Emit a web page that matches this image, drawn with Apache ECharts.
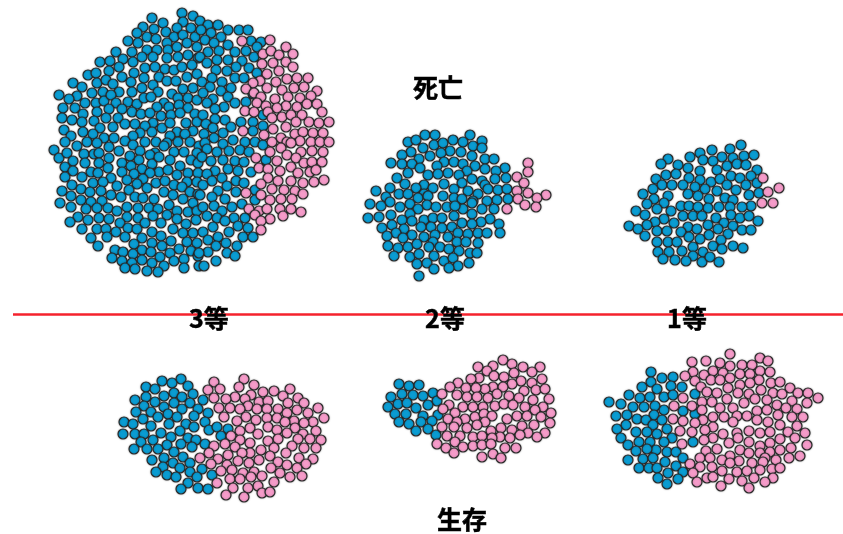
<!DOCTYPE html>
<html><head><meta charset="utf-8">
<script src="https://cdn.jsdelivr.net/npm/echarts@6/dist/echarts.min.js"></script>
<style>html,body{margin:0;padding:0;background:#fff}#c{width:843px;height:534px}</style></head>
<body><div id="c"></div><script>
const dead3Blue=[[152,18],[163,23],[182,13],[193,16],[183,22],[143,27],[154,29],[137,33],[166,32],[177,28],[191,28],[147,37],[156,39],[174,37],[183,35],[195,37],[128,41],[138,43],[167,43],[187,43],[116,52],[132,52],[147,50],[157,50],[168,50],[177,47],[197,47],[100,62],[110,61],[123,59],[133,62],[142,57],[153,57],[167,58],[178,57],[188,55],[198,58],[119,67],[145,68],[155,67],[165,69],[174,70],[182,67],[192,65],[88,75],[96,73],[109,71],[134,73],[122,77],[144,78],[159,77],[187,77],[197,74],[73,83],[82,87],[97,83],[106,80],[113,84],[131,82],[153,85],[167,81],[176,81],[59,95],[92,93],[103,92],[119,92],[132,92],[142,88],[158,92],[183,89],[193,88],[172,94],[77,96],[69,99],[85,103],[96,103],[104,101],[111,95],[116,103],[128,102],[137,104],[144,98],[151,97],[164,103],[178,98],[188,98],[197,100],[63,108],[75,108],[97,112],[109,109],[122,109],[157,107],[169,107],[179,105],[188,108],[83,114],[132,112],[141,114],[150,113],[161,116],[171,115],[180,113],[195,114],[62,118],[72,120],[94,121],[106,118],[118,118],[82,122],[125,124],[135,124],[153,123],[145,126],[162,128],[170,123],[186,123],[197,122],[64,130],[100,128],[113,127],[83,132],[93,134],[71,136],[140,133],[152,132],[177,132],[193,131],[185,134],[170,136],[104,138],[114,138],[133,136],[65,142],[87,142],[97,143],[125,141],[145,142],[156,142],[167,143],[178,142],[190,142],
[54,150],[77,146],[109,147],[133,145],[164,146],[199,146],[59,158],[67,153],[84,154],[94,154],[99,153],[119,151],[140,151],[155,153],[174,152],[184,152],[197,153],[73,161],[85,163],[99,163],[109,158],[122,163],[130,156],[139,160],[150,155],[152,164],[159,157],[170,160],[191,160],[198,163],[65,167],[73,171],[91,172],[108,168],[131,166],[142,169],[159,172],[168,170],[180,166],[188,173],[198,173],[122,172],[134,174],[150,173],[98,173],[177,175],[65,177],[82,177],[111,178],[93,183],[103,182],[127,180],[143,179],[156,183],[165,181],[187,182],[197,182],[72,185],[117,186],[137,184],[174,185],[62,191],[81,189],[90,192],[101,191],[129,190],[147,188],[164,192],[182,187],[190,192],[71,196],[111,195],[121,197],[135,197],[143,198],[154,199],[173,195],[198,194],[81,200],[91,202],[102,201],[183,199],[60,203],[169,205],[193,203],[71,207],[86,209],[97,208],[108,208],[117,211],[127,207],[138,208],[149,208],[158,209],[177,211],[188,212],[197,211],[78,217],[70,222],[88,220],[99,218],[109,219],[127,217],[138,218],[153,216],[167,215],[177,219],[196,220],[186,224],[120,223],[145,223],[161,223],[82,229],[97,229],[106,229],[128,228],[137,229],[116,232],[152,232],[173,229],[183,233],[193,233],[91,238],[107,237],[125,237],[161,236],[142,238],[171,241],[187,242],[197,243],[134,244],[152,243],[98,246],[115,250],[123,252],[142,250],[151,252],[162,246],[179,249],[191,251],[133,254],[170,253],[160,257],[198,256],[112,258],[122,261],[142,260],[174,261],[184,259],[152,263],[132,263],[164,266],[125,268],[135,269],[147,271],[158,272],[184,268],[199,266],
[200,21],[208,25],[218,25],[201,30],[228,30],[239,30],[248,30],[211,33],[221,37],[205,40],[214,43],[251,41],[261,42],[228,45],[219,51],[208,52],[235,52],[246,51],[257,47],[200,57],[217,60],[228,60],[242,61],[254,57],[207,63],[236,67],[249,68],[227,71],[216,70],[257,73],[212,78],[235,78],[244,78],[202,82],[222,82],[210,87],[231,88],[221,91],[203,93],[253,94],[228,97],[213,99],[207,103],[235,103],[246,102],[224,107],[215,109],[203,115],[263,115],[225,120],[215,119],[241,122],[253,122],[206,124],[263,126],[231,127],[213,128],[253,131],[223,133],[204,134],[214,138],[233,140],[245,142],[255,142],[205,143],
[223,144],[263,145],[207,149],[217,152],[229,151],[240,150],[249,152],[202,157],[211,161],[223,160],[235,161],[244,162],[266,160],[215,171],[228,169],[238,171],[251,172],[207,174],[212,181],[222,178],[236,181],[244,183],[203,185],[227,186],[218,191],[236,192],[255,190],[200,195],[212,197],[225,199],[255,200],[242,204],[203,207],[214,206],[232,207],[222,211],[217,218],[207,216],[245,218],[234,218],[225,221],[213,227],[238,226],[248,228],[203,232],[229,232],[218,237],[243,237],[253,237],[208,240],[226,243],[216,246],[237,246],[208,252],[199,253],[227,253],[235,256],[216,261],[204,266]];
const dead3Pink=[[242,41],[270,40],[286,47],[263,54],[271,51],[279,55],[293,54],[262,64],[273,63],[286,62],[293,67],[279,71],[267,74],[287,79],[297,78],[308,78],[276,82],[260,81],[253,83],[246,89],[267,88],[282,90],[294,88],[304,87],[317,91],[254,93],[261,97],[275,99],[288,97],[300,98],[311,96],[257,103],[266,106],[286,106],[277,108],[297,107],[307,104],[317,104],[245,111],[254,112],[268,112],[322,112],[282,117],[291,115],[302,115],[272,118],[309,122],[296,122],[319,123],[329,122],[273,129],[286,127],[243,131],[264,135],[295,134],[303,132],[313,133],[323,133],[281,138],[272,142],[287,142],[300,141],[311,142],[320,142],[329,142],[281,148],[291,143],[312,151],[270,152],[287,155],[301,152],[323,152],[256,158],[277,161],[296,158],[259,168],[268,169],[304,163],[312,162],[322,162],[291,167],[280,171],[298,173],[310,172],[316,170],[268,178],[278,181],[291,181],[303,183],[314,182],[324,180],[261,184],[272,189],[284,190],[295,191],[303,194],[246,193],[261,195],[281,199],[270,200],[292,199],[249,209],[259,211],[267,209],[280,209],[291,209],[301,212],[255,215],[283,216],[270,219],[261,221],[261,230]];
const dead2Blue=[[425,135],[435,135],[470,135],[408,142],[416,140],[423,148],[434,145],[443,143],[453,140],[463,142],[482,141],[473,146],[482,148],[411,152],[450,151],[461,152],[441,153],[402,155],[430,156],[419,159],[472,156],[485,159],[494,159],[391,163],[402,164],[412,164],[444,162],[454,162],[437,166],[463,164],[475,166],[420,168],[505,168],[485,169],[467,171],[408,173],[448,173],[428,175],[438,174],[496,171],[459,175],[397,178],[495,179],[506,178],[482,181],[472,179],[405,184],[444,184],[462,183],[424,185],[416,188],[433,188],[390,188],[485,185],[454,189],[468,191],[488,189],[498,190],[507,189],[376,191],[399,194],[408,194],[424,194],[478,194],[443,196],[386,197],[418,198],[428,196],[454,198],[462,199],[473,201],[497,200],[508,199],[487,201],[390,202],[370,204],[381,206],[410,204],[427,205],[436,207],[447,207],[400,207],[418,209],[472,203],[463,209],[482,209],[494,209],[455,206],[410,214],[391,215],[379,217],[368,218],[454,216],[472,214],[402,220],[424,220],[433,218],[442,218],[412,221],[462,223],[490,219],[481,222],[472,224],[392,225],[382,228],[404,229],[431,227],[442,228],[452,227],[421,227],[499,224],[396,233],[387,236],[412,235],[424,237],[435,235],[448,237],[458,233],[468,234],[478,233],[487,233],[500,233],[403,238],[433,242],[457,242],[466,242],[478,243],[388,246],[398,248],[408,247],[417,244],[429,247],[440,247],[449,249],[459,251],[470,253],[477,253],[394,256],[410,257],[419,254],[434,256],[444,261],[453,258],[469,263],[417,264],[427,263],[458,266],[449,268],[434,269],[419,276]];
const dead2Pink=[[528,163],[528,172],[517,177],[524,183],[517,191],[528,193],[546,195],[537,198],[518,199],[525,205],[536,207],[507,209]];
const dead1Blue=[[741,145],[730,149],[712,150],[700,153],[690,157],[722,157],[744,156],[754,155],[733,158],[668,159],[703,160],[713,161],[661,164],[678,165],[727,166],[737,164],[746,165],[688,168],[700,171],[717,170],[757,170],[666,175],[676,174],[731,176],[740,178],[751,176],[656,179],[689,178],[711,182],[700,180],[720,179],[757,183],[662,185],[672,185],[683,185],[695,187],[705,189],[727,185],[746,185],[653,189],[736,190],[717,191],[643,194],[668,196],[688,194],[698,196],[749,195],[759,193],[725,198],[654,199],[709,199],[733,200],[647,204],[664,203],[681,206],[689,206],[708,208],[698,207],[719,207],[730,207],[751,206],[742,207],[657,209],[671,211],[636,211],[645,215],[683,216],[693,216],[702,216],[731,215],[740,218],[749,216],[716,218],[664,219],[655,222],[674,223],[758,221],[724,223],[647,225],[629,226],[638,229],[708,225],[688,227],[733,226],[697,229],[718,229],[742,230],[751,230],[657,231],[667,231],[681,232],[728,234],[645,236],[709,235],[689,237],[700,239],[721,240],[668,242],[677,242],[657,242],[733,246],[713,246],[693,247],[743,248],[722,249],[658,252],[669,252],[682,251],[703,252],[663,259],[675,260],[693,256],[686,261],[702,262],[710,257],[719,262]];
const dead1Pink=[[763,178],[779,188],[768,192],[762,203],[773,203]];
const live3Blue=[[162,381],[181,379],[172,383],[146,387],[155,389],[188,386],[174,393],[193,394],[164,396],[146,397],[182,397],[135,400],[155,402],[174,403],[203,400],[190,403],[144,406],[164,407],[198,409],[182,409],[136,412],[151,412],[168,414],[208,413],[194,416],[158,417],[177,417],[143,419],[124,422],[133,424],[205,422],[186,424],[169,424],[151,426],[194,427],[209,430],[217,427],[228,429],[180,431],[161,433],[123,434],[135,434],[144,434],[171,437],[188,438],[221,436],[196,440],[153,440],[141,442],[181,444],[205,444],[167,445],[192,447],[134,449],[147,449],[158,449],[174,452],[183,457],[164,458],[152,460],[190,463],[173,463],[163,467],[180,468],[202,469],[156,472],[190,472],[167,475],[176,477],[197,477],[212,475],[188,483],[198,488],[181,489],[208,489]];
const live3Pink=[[214,382],[244,379],[208,390],[220,389],[239,387],[254,385],[290,389],[263,392],[274,391],[214,398],[235,397],[226,399],[251,395],[245,399],[283,396],[298,398],[259,402],[268,401],[288,403],[304,403],[248,406],[219,408],[230,408],[240,409],[257,409],[267,409],[278,409],[297,410],[318,408],[287,413],[308,413],[224,417],[246,417],[256,420],[267,418],[277,418],[324,418],[237,421],[294,421],[313,422],[285,422],[304,423],[250,428],[268,427],[277,430],[295,428],[240,431],[231,436],[258,434],[287,433],[316,431],[303,434],[278,439],[310,439],[321,440],[240,440],[250,443],[268,441],[298,439],[292,446],[225,444],[214,446],[235,447],[261,450],[316,448],[304,448],[274,448],[250,453],[286,453],[209,453],[228,455],[242,453],[270,456],[299,458],[200,458],[218,459],[238,461],[259,460],[278,462],[313,459],[249,463],[211,464],[287,465],[306,464],[227,465],[271,468],[232,470],[221,471],[254,472],[297,468],[280,473],[243,473],[262,476],[290,477],[302,476],[230,479],[240,479],[251,477],[217,483],[274,482],[258,486],[248,488],[233,488],[226,495],[262,493],[270,492],[244,497]];
const live2Blue=[[399,384],[409,386],[419,385],[402,394],[413,395],[433,393],[391,397],[423,396],[437,401],[398,404],[407,403],[428,405],[388,407],[416,408],[395,414],[406,414],[438,415],[423,416],[399,422],[409,424],[432,421],[421,422],[416,431],[428,429],[436,435]];
const live2Pink=[[503,360],[512,364],[478,367],[493,366],[523,367],[540,367],[487,371],[532,372],[514,373],[494,376],[504,377],[479,378],[471,379],[542,379],[521,381],[458,383],[532,383],[450,387],[512,384],[493,387],[466,388],[485,389],[476,388],[503,387],[524,391],[536,390],[545,389],[442,394],[457,395],[467,397],[497,394],[509,396],[477,397],[488,398],[519,398],[549,399],[533,400],[449,405],[463,407],[483,407],[473,407],[495,406],[504,404],[513,405],[525,407],[543,407],[535,410],[443,409],[551,413],[475,417],[484,414],[492,416],[517,416],[507,419],[527,416],[541,417],[455,413],[448,419],[485,422],[465,419],[457,422],[477,425],[550,423],[534,425],[522,426],[501,428],[442,427],[454,427],[467,428],[512,430],[491,431],[545,433],[528,433],[447,436],[460,436],[473,437],[482,436],[500,437],[510,438],[520,435],[537,437],[455,442],[492,438],[437,444],[473,446],[482,445],[491,444],[505,448],[516,448],[446,448],[463,447],[454,453],[482,457],[493,454],[501,458]];
const live1Blue=[[651,372],[651,382],[662,378],[673,377],[642,387],[671,386],[682,387],[657,389],[629,395],[640,398],[650,397],[664,397],[673,395],[695,394],[609,402],[621,404],[633,407],[644,407],[655,406],[664,410],[683,411],[616,416],[627,415],[637,419],[654,415],[662,420],[646,420],[695,414],[626,425],[653,425],[617,429],[636,432],[647,432],[667,429],[657,434],[621,438],[672,438],[639,442],[650,442],[664,442],[693,442],[628,445],[656,450],[647,449],[636,451],[667,452],[676,452],[683,458],[643,459],[653,458],[628,460],[665,462],[676,466],[683,472],[639,468],[649,468],[657,468],[668,473],[658,478],[678,479],[667,484]];
const live1Pink=[[730,354],[760,358],[768,361],[692,362],[706,361],[720,363],[730,366],[742,365],[752,365],[693,372],[713,371],[760,371],[770,372],[685,376],[704,375],[723,373],[740,374],[750,374],[695,381],[711,380],[720,380],[730,378],[759,380],[740,385],[750,383],[771,383],[780,382],[701,387],[728,388],[790,388],[707,392],[717,393],[738,393],[749,394],[761,390],[773,393],[782,394],[798,393],[808,393],[818,398],[683,398],[727,399],[755,399],[767,400],[702,402],[712,402],[792,401],[807,403],[674,406],[692,406],[744,403],[777,405],[786,408],[797,409],[702,410],[720,408],[733,408],[757,411],[767,410],[713,417],[724,417],[737,416],[747,416],[778,415],[792,417],[803,417],[673,419],[683,421],[703,420],[695,423],[757,420],[768,422],[733,422],[713,427],[797,426],[780,425],[680,431],[692,432],[705,430],[723,434],[737,433],[749,431],[760,433],[770,432],[788,432],[805,433],[713,438],[704,440],[729,443],[738,438],[749,442],[770,443],[780,439],[795,438],[682,444],[807,445],[760,446],[706,451],[717,449],[740,450],[749,453],[760,453],[770,452],[780,450],[791,448],[730,456],[700,458],[710,458],[722,460],[739,461],[800,456],[765,458],[776,460],[789,458],[690,464],[700,467],[712,467],[752,463],[730,463],[763,462],[722,471],[737,472],[747,471],[760,470],[772,469],[780,468],[693,473],[707,478],[713,477],[729,479],[754,478],[773,478],[697,482],[721,486],[742,481],[765,482],[749,488]];
const ruleLine=[[13,314.5],[843,314.5]];
const labels=[{name:'死亡',value:[438,87]},{name:'3等',value:[209,318]},{name:'2等',value:[445,318]},{name:'1等',value:[687,318]},{name:'生存',value:[462,519]}];

const blueGroups=[dead3Blue,dead2Blue,dead1Blue,live3Blue,live2Blue,live1Blue];
const pinkGroups=[dead3Pink,dead2Pink,dead1Pink,live3Pink,live2Pink,live1Pink];
const blue=[].concat(...blueGroups), pink=[].concat(...pinkGroups);
const dot=(name,data,color)=>({type:'scatter',name,data,symbolSize:10,silent:true,animation:false,
  itemStyle:{color,borderColor:'#2a2a2a',borderWidth:1.2,opacity:1,shadowBlur:2,shadowColor:'rgba(0,0,0,0.3)'}});
const chart=echarts.init(document.getElementById('c'),null,{renderer:'canvas'});
chart.setOption({
  animation:false,
  grid:{left:0,right:0,top:0,bottom:0},
  xAxis:{type:'value',min:0,max:843,show:false},
  yAxis:{type:'value',min:0,max:534,inverse:true,show:false},
  series:[
    dot('死亡',blue,'#0a9cd2'),
    dot('生存',pink,'#f59bc9'),
    {type:'line',data:ruleLine,symbol:'none',z:3,animation:false,lineStyle:{color:'#f5222d',width:2.6}},
    {type:'scatter',data:labels,symbol:'circle',symbolSize:1,z:4,animation:false,itemStyle:{color:'transparent'},
     label:{show:true,position:'inside',formatter:p=>p.name,color:'#000',opacity:1,textBorderColor:'#000',textBorderWidth:0.5,fontSize:25,fontWeight:'bold',fontFamily:'"Noto Sans CJK JP"'}}
  ]
});
</script></body></html>
